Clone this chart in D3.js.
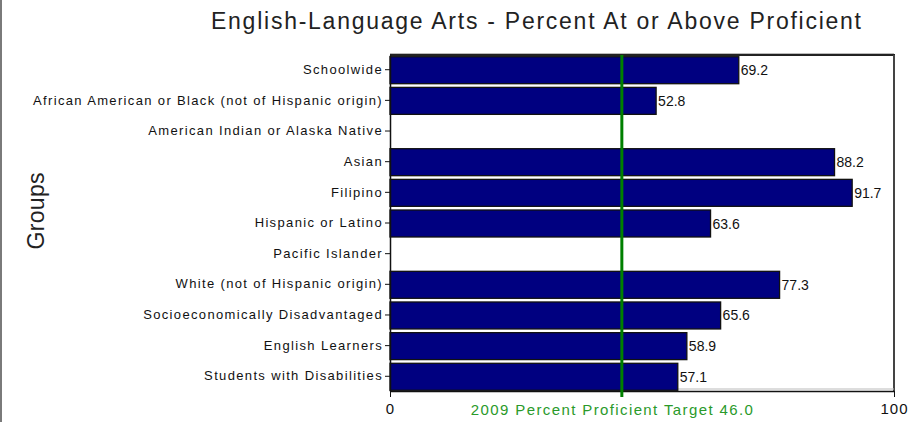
<!DOCTYPE html>
<html><head><meta charset="utf-8">
<script src="https://cdn.jsdelivr.net/npm/d3@7"></script>
<style>body{margin:0;background:#fff}svg{display:block}</style>
</head><body>
<svg id="c" width="918" height="422"></svg>
<script>
const categories = ["Schoolwide","African American or Black (not of Hispanic origin)","American Indian or Alaska Native","Asian","Filipino","Hispanic or Latino","Pacific Islander","White (not of Hispanic origin)","Socioeconomically Disadvantaged","English Learners","Students with Disabilities"];
const values = [69.2, 52.8, null, 88.2, 91.7, 63.6, null, 77.3, 65.6, 58.9, 57.1];
const xTicks = [0, 100];
const target = 46.0;
const targetLabel = "2009 Percent Proficient Target 46.0";
const title = "English-Language Arts - Percent At or Above Proficient";
const yTitle = "Groups";

const svg = d3.select("#c");
const L = 390, R = 894, T = 55, B = 391;
const x = d3.scaleLinear().domain([0,100]).range([L,R]);
const y = d3.scaleBand().domain(categories).range([T,B]).paddingInner(0.12).paddingOuter(0.04);
const F = "'Liberation Sans', Arial, sans-serif";

// page border
svg.append("line").attr("x1",1).attr("x2",1).attr("y1",0).attr("y2",422).attr("stroke","#7a7a7a").attr("stroke-width",2);

// title
svg.append("text").attr("x",536).attr("y",29).attr("text-anchor","middle")
  .attr("font-family",F).attr("font-size",23).attr("fill","#222")
  .attr("textLength",650).attr("lengthAdjust","spacing").text(title);

// frame
svg.append("line").attr("x1",L).attr("x2",R).attr("y1",T-1.5).attr("y2",T-1.5).attr("stroke","#bbb").attr("stroke-width",1);
svg.append("line").attr("x1",L).attr("x2",R+1).attr("y1",T).attr("y2",T).attr("stroke","#222").attr("stroke-width",2);
svg.append("line").attr("x1",R).attr("x2",R).attr("y1",T).attr("y2",B).attr("stroke","#444").attr("stroke-width",2);
svg.append("line").attr("x1",L).attr("x2",R).attr("y1",B-2).attr("y2",B-2).attr("stroke","#bbb").attr("stroke-width",1);

// bars
const data = categories.map((c,i)=>({c, v: values[i]})).filter(d=>d.v!=null);
svg.append("g").selectAll("rect").data(data).join("rect")
  .attr("x",x(0)).attr("y",d=>y(d.c)+0.5).attr("width",d=>x(d.v)-x(0)).attr("height",y.bandwidth())
  .attr("fill","#000080").attr("stroke","#111").attr("stroke-width",1.3);
svg.append("g").selectAll("text").data(data).join("text")
  .attr("x",d=>x(d.v)+2).attr("y",d=>y(d.c)+y.bandwidth()/2+5.5)
  .attr("font-family",F).attr("font-size",14).attr("fill","#111").text(d=>d.v.toFixed(1));

// y axis
const ya = svg.append("g").attr("transform",`translate(${L},0)`).call(d3.axisLeft(y).tickSize(5).tickSizeOuter(0).tickPadding(2));
ya.select(".domain").attr("stroke","#111").attr("stroke-width",1.5);
ya.selectAll(".tick line").attr("stroke","#111");
ya.selectAll(".tick text").attr("font-family",F).attr("font-size",13).attr("fill","#111").attr("letter-spacing","1.35px");

// x axis
const xa = svg.append("g").attr("transform",`translate(0,${B})`).call(d3.axisBottom(x).tickValues(xTicks).tickSize(6).tickSizeOuter(0).tickPadding(6));
xa.select(".domain").attr("stroke","#111").attr("stroke-width",1.5);
xa.selectAll(".tick line").attr("stroke","#111");
xa.selectAll(".tick text").attr("font-family",F).attr("font-size",15).attr("fill","#111").attr("letter-spacing","1px");

// target line
svg.append("line").attr("x1",x(target)).attr("x2",x(target)).attr("y1",T).attr("y2",B+6).attr("stroke","#008000").attr("stroke-width",3);
svg.append("text").attr("x",x(target)-10).attr("y",415).attr("text-anchor","middle")
  .attr("font-family",F).attr("font-size",15).attr("fill","#2a9a2a")
  .attr("textLength",282).attr("lengthAdjust","spacing").text(targetLabel);

// y title
svg.append("text").attr("transform","translate(44,211) rotate(-90)").attr("text-anchor","middle")
  .attr("font-family",F).attr("font-size",23).attr("fill","#222")
  .attr("textLength",77).attr("lengthAdjust","spacing").text(yTitle);
</script>
</body></html>
